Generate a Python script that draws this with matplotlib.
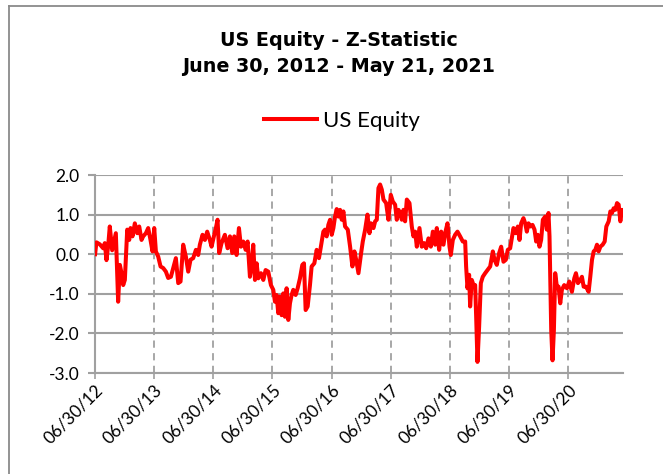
import matplotlib
matplotlib.use("Agg")
import matplotlib.pyplot as plt
from matplotlib.lines import Line2D
import pandas as pd
import numpy as np

# time in decimal years, z-statistic values
years = [
    2012.496, 2012.519, 2012.575, 2012.632, 2012.660, 2012.688, 2012.716, 2012.744, 2012.784, 2012.812,
    2012.846, 2012.885, 2012.914, 2012.942, 2012.970, 2012.998, 2013.038, 2013.072, 2013.094, 2013.128,
    2013.167, 2013.207, 2013.241, 2013.280, 2013.308, 2013.354, 2013.393, 2013.432, 2013.466, 2013.495,
    2013.523, 2013.562, 2013.602, 2013.647, 2013.692, 2013.731, 2013.777, 2013.816, 2013.861, 2013.901,
    2013.940, 2013.985, 2014.030, 2014.070, 2014.109, 2014.154, 2014.200, 2014.239, 2014.267, 2014.312,
    2014.352, 2014.391, 2014.436, 2014.465, 2014.504, 2014.538, 2014.566, 2014.594, 2014.634, 2014.690,
    2014.736, 2014.776, 2014.815, 2014.849, 2014.888, 2014.928, 2014.962, 2015.001, 2015.041, 2015.075,
    2015.114, 2015.142, 2015.170, 2015.199, 2015.227, 2015.255, 2015.300, 2015.340, 2015.379, 2015.424,
    2015.469, 2015.509, 2015.537, 2015.565, 2015.593, 2015.622, 2015.650, 2015.678, 2015.706, 2015.734,
    2015.763, 2015.791, 2015.819, 2015.847, 2015.887, 2015.921, 2015.960, 2016.000, 2016.028, 2016.056,
    2016.090, 2016.129, 2016.157, 2016.203, 2016.242, 2016.281, 2016.327, 2016.355, 2016.383, 2016.411,
    2016.439, 2016.468, 2016.496, 2016.524, 2016.552, 2016.580, 2016.609, 2016.637, 2016.665, 2016.693,
    2016.721, 2016.767, 2016.806, 2016.845, 2016.879, 2016.908, 2016.947, 2016.992,
    2017.020, 2017.060, 2017.099, 2017.133, 2017.161, 2017.201, 2017.229, 2017.257, 2017.285, 2017.313,
    2017.342, 2017.370, 2017.415, 2017.454, 2017.494, 2017.528, 2017.567, 2017.595, 2017.624, 2017.652,
    2017.680, 2017.708, 2017.736, 2017.765, 2017.810, 2017.849, 2017.877, 2017.906, 2017.934, 2017.979,
    2018.018, 2018.058, 2018.092, 2018.131, 2018.171, 2018.205, 2018.244, 2018.272, 2018.312, 2018.346,
    2018.385, 2018.419, 2018.453, 2018.487, 2018.509, 2018.543, 2018.582, 2018.622, 2018.667, 2018.712,
    2018.752, 2018.768, 2018.791, 2018.819, 2018.836, 2018.864, 2018.893, 2018.921, 2018.938, 2018.960,
    2018.988, 2019.017, 2019.050, 2019.090, 2019.129, 2019.175, 2019.220, 2019.248,
    2019.287, 2019.327, 2019.361, 2019.400, 2019.440, 2019.473, 2019.513, 2019.541, 2019.569, 2019.609,
    2019.643, 2019.671, 2019.699, 2019.738, 2019.767, 2019.795, 2019.823, 2019.857, 2019.891, 2019.925,
    2019.953, 2019.981, 2020.009, 2020.037, 2020.066, 2020.105, 2020.133, 2020.161, 2020.178, 2020.190,
    2020.207, 2020.229, 2020.252, 2020.274, 2020.302, 2020.331, 2020.359, 2020.387, 2020.426, 2020.472,
    2020.511, 2020.556, 2020.596, 2020.624, 2020.658, 2020.697, 2020.725, 2020.754, 2020.793, 2020.838,
    2020.866, 2020.895, 2020.923, 2020.951, 2020.979, 2021.007, 2021.036, 2021.075, 2021.109, 2021.137,
    2021.177, 2021.205, 2021.233, 2021.261, 2021.289, 2021.318, 2021.346, 2021.374, 2021.402, 2021.419,
]
zstat = [
    0.00, 0.30, 0.25, 0.15, 0.28, -0.15, 0.20, 0.70, 0.10, 0.30,
    0.53, -1.20, -0.27, -0.48, -0.78, -0.65, 0.62, 0.36, 0.66, 0.45,
    0.78, 0.53, 0.70, 0.36, 0.45, 0.53, 0.66, 0.36, 0.07, 0.66,
    0.07, -0.06, -0.31, -0.35, -0.44, -0.60, -0.57, -0.35, -0.10, -0.73,
    -0.69, 0.24, -0.06, -0.44, -0.14, -0.10, 0.11, -0.02, 0.24, 0.49,
    0.36, 0.57, 0.36, 0.19, 0.45, 0.66, 0.87, 0.03, 0.28, 0.49,
    0.15, 0.45, 0.03, 0.45, -0.02, 0.66, 0.19, 0.32, 0.11, 0.32,
    -0.57, -0.31, 0.24, -0.65, -0.23, -0.61, -0.48, -0.65, -0.40, -0.44,
    -0.78, -0.90, -1.20, -1.03, -1.49, -1.07, -1.54, -0.99, -1.58, -0.86,
    -1.66, -1.24, -1.03, -0.90, -1.03, -0.86, -0.61, -0.27, -0.23, -1.41,
    -1.32, -0.78, -0.31, -0.23, 0.11, -0.10, 0.32, 0.57, 0.62, 0.45,
    0.74, 0.87, 0.49, 0.66, 0.95, 1.14, 0.95, 1.12, 0.87, 1.08,
    0.70, 0.62, 0.19, -0.31, 0.07, -0.14, -0.48, 0.03,
    0.32, 0.62, 1.00, 0.53, 0.78, 0.66, 0.83, 0.87, 1.67, 1.76,
    1.63, 1.38, 1.29, 0.87, 1.50, 1.33, 1.25, 0.87, 1.12, 1.04,
    0.87, 1.12, 0.83, 1.38, 1.29, 0.70, 0.45, 0.57, 0.19, 0.66,
    0.19, 0.28, 0.15, 0.40, 0.19, 0.57, 0.24, 0.66, 0.11, 0.57,
    0.24, 0.57, 0.78, 0.19, -0.02, 0.36, 0.49, 0.57, 0.45, 0.32,
    0.32, -0.31, -0.86, -0.52, -1.32, -0.65, -0.78, -0.78, -1.58, -2.72,
    -1.83, -0.73, -0.57, -0.48, -0.40, -0.31, 0.07, -0.14,
    -0.27, 0.03, 0.19, -0.19, -0.14, 0.11, 0.15, 0.40, 0.66, 0.53,
    0.70, 0.36, 0.78, 0.91, 0.78, 0.57, 0.78, 0.70, 0.74, 0.62,
    0.32, 0.49, 0.19, 0.36, 0.87, 0.95, 0.62, 1.04, 0.45, -0.57,
    -1.92, -2.68, -1.92, -0.48, -0.82, -0.82, -1.24, -0.90, -0.78, -0.86,
    -0.69, -0.95, -0.61, -0.48, -0.73, -0.65, -0.57, -0.82, -0.82, -0.95,
    -0.57, -0.14, 0.07, 0.11, 0.24, 0.07, 0.19, 0.24, 0.32, 0.70,
    0.83, 1.08, 1.04, 1.16, 1.12, 1.29, 1.25, 0.83, 1.12, 1.08,
]

tick_dates = ["2012-06-30", "2013-06-30", "2014-06-30", "2015-06-30", "2016-06-30",
              "2017-06-30", "2018-06-30", "2019-06-30", "2020-06-30"]
y_ticks = [2.0, 1.0, 0.0, -1.0, -2.0, -3.0]
title_line1 = "US Equity - Z-Statistic"
title_line2 = "June 30, 2012 - May 21, 2021"
series_name = "US Equity"


def dec_to_date(y):
    yr = int(np.floor(y))
    start = pd.Timestamp(year=yr, month=1, day=1)
    end = pd.Timestamp(year=yr + 1, month=1, day=1)
    return start + (end - start) * (y - yr)


dates = [dec_to_date(y) for y in years]
ticks = pd.to_datetime(tick_dates)

W, H = 663, 474
fig = plt.figure(figsize=(W / 100, H / 100), dpi=100)
fig.patch.set_facecolor("white")

left, right, top, bottom = 95, 623, 175, 373
ax = fig.add_axes([left / W, 1 - bottom / H, (right - left) / W, (bottom - top) / H])

grid_c = "#a0a0a0"
ax.plot(dates, zstat, color="#ff0000", lw=2.9, solid_joinstyle="round", zorder=3,
        label=series_name)

ax.set_ylim(-3.0, 2.0)
ax.set_xlim(dates[0], dates[-1])
ax.set_yticks(y_ticks)
ax.set_yticklabels([f"{v:.1f}" for v in y_ticks])
ax.set_xticks(ticks)
ax.set_xticklabels([t.strftime("%m/%d/%y") for t in ticks])

for v in y_ticks:
    ax.axhline(v, color=grid_c, lw=1.5, zorder=1)
for t in ticks[1:]:
    ax.axvline(t, color=grid_c, lw=1.3, ls=(0, (4, 3)), zorder=1)

for s in ["top", "right"]:
    ax.spines[s].set_visible(False)
for s in ["left", "bottom"]:
    ax.spines[s].set_color(grid_c)
    ax.spines[s].set_linewidth(1.5)

ax.tick_params(axis="y", direction="out", length=5, width=1.5, color=grid_c, pad=6)
ax.tick_params(axis="x", direction="out", length=4, width=1.2, color=grid_c, pad=2)
for lab in ax.get_yticklabels():
    lab.set_fontfamily("Lato"); lab.set_fontsize(12.5)
for lab in ax.get_xticklabels():
    lab.set_fontfamily("Lato"); lab.set_fontsize(12.5)
    lab.set_rotation(45); lab.set_ha("right"); lab.set_rotation_mode("anchor")
    lab.set_va("top")

fig.text(339 / W, 1 - 41 / H, title_line1, ha="center", va="center",
         family="DejaVu Sans", weight="bold", size=13.8)
fig.text(339 / W, 1 - 67 / H, title_line2, ha="center", va="center",
         family="DejaVu Sans", weight="bold", size=13.8)

leg = fig.legend(loc="center", bbox_to_anchor=(342 / W, 1 - 121 / H), frameon=False,
                 prop=dict(family="Lato", size=16), handlelength=2.4, handletextpad=0.25)

# chart-area border (top and left edges visible)
fig.add_artist(Line2D([9 / W, 9 / W], [0, 1 - 6 / H], color="#8a8a8a", lw=1.3,
                      transform=fig.transFigure))
fig.add_artist(Line2D([9 / W, 1], [1 - 6 / H, 1 - 6 / H], color="#8a8a8a", lw=1.3,
                      transform=fig.transFigure))

fig.savefig("out.png", dpi=100)
